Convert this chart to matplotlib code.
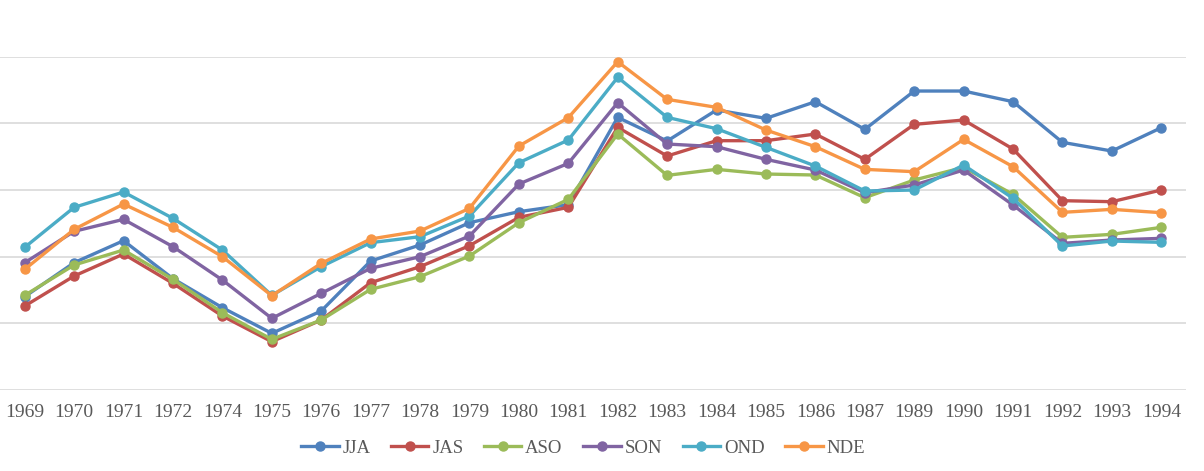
import matplotlib
matplotlib.use("Agg")
import matplotlib.pyplot as plt
import numpy as np

years = ["1969", "1970", "1971", "1972", "1974", "1975", "1976", "1977", "1978", "1979",
         "1980", "1981", "1982", "1983", "1984", "1985", "1986", "1987", "1989", "1990",
         "1991", "1992", "1993", "1994"]

JJA = [1.40, 1.91, 2.24, 1.67, 1.235, 0.85, 1.185, 1.935, 2.175, 2.51,
       2.675, 2.78, 4.09, 3.735, 4.20, 4.075, 4.325, 3.91, 4.485, 4.485,
       4.325, 3.715, 3.585, 3.935]
JAS = [1.26, 1.71, 2.04, 1.60, 1.11, 0.725, 1.05, 1.61, 1.85, 2.165,
       2.59, 2.74, 3.94, 3.51, 3.74, 3.74, 3.84, 3.46, 3.985, 4.05,
       3.615, 2.84, 2.825, 3.00]
ASO = [1.42, 1.875, 2.10, 1.66, 1.16, 0.76, 1.05, 1.51, 1.70, 2.01,
       2.51, 2.86, 3.84, 3.22, 3.31, 3.24, 3.225, 2.885, 3.15, 3.34,
       2.935, 2.29, 2.335, 2.44]
SON = [1.91, 2.38, 2.56, 2.15, 1.65, 1.075, 1.45, 1.825, 2.00, 2.31,
       3.09, 3.40, 4.31, 3.69, 3.65, 3.46, 3.30, 2.96, 3.075, 3.30,
       2.775, 2.20, 2.25, 2.275]
OND = [2.14, 2.74, 2.97, 2.575, 2.10, 1.42, 1.85, 2.21, 2.30, 2.61,
       3.41, 3.75, 4.69, 4.09, 3.92, 3.64, 3.36, 2.985, 3.00, 3.375,
       2.875, 2.16, 2.235, 2.215]
NDE = [1.81, 2.41, 2.79, 2.44, 2.00, 1.415, 1.90, 2.265, 2.385, 2.725,
       3.66, 4.085, 4.925, 4.36, 4.24, 3.90, 3.65, 3.31, 3.275, 3.76,
       3.35, 2.665, 2.71, 2.66]

series_names = ["JJA", "JAS", "ASO", "SON", "OND", "NDE"]
series_vals = [JJA, JAS, ASO, SON, OND, NDE]
colors = ["#4F81BD", "#C0504D", "#9BBB59", "#8064A2", "#4BACC6", "#F79646"]

fig = plt.figure(figsize=(12.04, 4.71), dpi=100)
ax = fig.add_axes([0.0, 1 - 390 / 471, 1186 / 1204, (390 - 56.7) / 471])

x = np.arange(len(years))
for name, vals, c in zip(series_names, series_vals, colors):
    ax.plot(x, vals, color=c, lw=2.4, marker="o", ms=6.5, label=name,
            solid_joinstyle="round")

ax.set_xlim(-0.5, len(years) - 0.5)
ax.set_ylim(0, 5)
ax.set_yticks([0, 1, 2, 3, 4, 5])
ax.set_yticklabels([])
ax.tick_params(axis="y", length=0)
ax.grid(axis="y", color="#D9D9D9", lw=1.2)
ax.set_axisbelow(True)
for s in ax.spines.values():
    s.set_visible(False)

ax.set_xticks(x)
ax.set_xticklabels(years, fontfamily="Liberation Serif", fontsize=14, color="#595959")
ax.tick_params(axis="x", length=0, pad=10)

leg = fig.legend(loc="center", bbox_to_anchor=(583 / 1204, 1 - 448 / 471), ncol=6,
                 frameon=False, prop={"family": "Liberation Serif", "size": 13.5},
                 handlelength=2.0, columnspacing=1.1, handletextpad=0.2)
for t in leg.get_texts():
    t.set_color("#595959")

fig.savefig("out.png", dpi=100)
